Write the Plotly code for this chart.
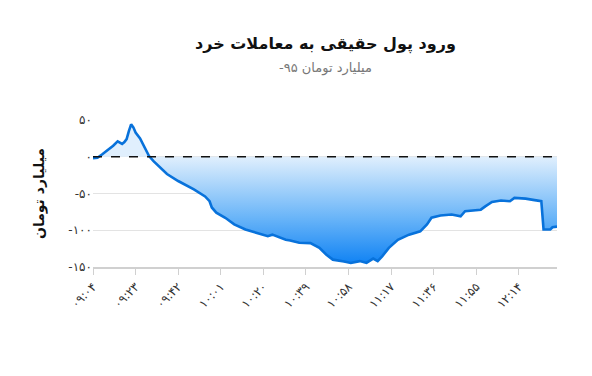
import plotly.graph_objects as go

# ---- data ----
times = ["09:04", "09:06", "09:08", "09:11", "09:13", "09:15", "09:16", "09:17", "09:18", "09:19",
         "09:20", "09:21", "09:22", "09:23", "09:25", "09:27", "09:29", "09:31", "09:34", "09:37",
         "09:42", "09:45", "09:49", "09:54", "09:56", "09:57", "09:59", "10:03", "10:07", "10:12",
         "10:15", "10:18", "10:22", "10:24", "10:27", "10:30", "10:32", "10:36", "10:41", "10:45",
         "10:48", "10:51", "10:56", "10:59", "11:03", "11:06", "11:09", "11:11", "11:13", "11:16",
         "11:20", "11:25", "11:30", "11:33", "11:35", "11:39", "11:44", "11:48", "11:50", "11:54",
         "11:57", "11:59", "12:02", "12:06", "12:10", "12:12", "12:17", "12:21", "12:24", "12:25",
         "12:28", "12:29", "12:31"]
values = [-2, -1.5, 3, 9.5, 15, 21, 19, 17.5, 20, 24,
          35, 44, 40, 33, 25, 14, 1, -6, -14.5, -23.5,
          -33, -38, -44.5, -54, -60.5, -69, -76, -83, -92, -99,
          -102, -105, -108, -106, -110, -113, -114, -117, -117.5, -124,
          -133, -140, -142.5, -144.5, -142, -144.5, -138.5, -142, -135.5, -124,
          -113, -106, -101.5, -92, -83, -80, -78.5, -81, -74, -73,
          -72, -67.5, -61.5, -59.5, -60.5, -56, -57, -59, -60.5, -99,
          -99, -96, -95]
tick_times = ["09:04", "09:23", "09:42", "10:01", "10:20", "10:39", "10:58",
              "11:17", "11:36", "11:55", "12:14"]
y_ticks = [50, 0, -50, -100, -150]

title_text = "ورود پول حقیقی به معاملات خرد"
subtitle_text = "میلیارد تومان ۹۵-"
y_title = "میلیارد تومان"

FA = str.maketrans("0123456789", "۰۱۲۳۴۵۶۷۸۹")
RLM = "\u200f"


def to_min(t):
    h, m = t.split(":")
    return int(h) * 60 + int(m) - (9 * 60 + 4)


x = [to_min(t) for t in times]
tickvals_x = [to_min(t) for t in tick_times]
ticktext_x = [t.translate(FA) for t in tick_times]
ticktext_y = [str(v).translate(FA) for v in y_ticks]

fig = go.Figure()
fig.add_trace(go.Scatter(
    x=x, y=values, mode="lines",
    line=dict(color="#0872db", width=2.6),
    fill="tozeroy",
    fillgradient=dict(type="vertical", start=-150, stop=0,
                      colorscale=[[0, "#0a7ff3"], [0.45, "#6ab5f8"], [1, "#e0effd"]]),
    hoverinfo="skip", showlegend=False,
))

fig.add_shape(type="line", xref="x", yref="y", x0=0, x1=207, y0=0, y1=0,
              line=dict(color="#111111", width=1.4, dash="dash"))

fig.update_layout(
    width=592, height=376,
    margin=dict(l=93, r=35, t=120, b=109),
    paper_bgcolor="white", plot_bgcolor="white",
    font=dict(family="DejaVu Sans, sans-serif", color="#555555"),
    annotations=[
        dict(text="<b>" + title_text + "</b>", xref="paper", yref="paper",
             x=0.5, y=1, yshift=76, xanchor="center", yanchor="middle", showarrow=False,
             font=dict(size=16, color="#111111")),
        dict(text=subtitle_text + RLM, xref="paper", yref="paper",
             x=0.5, y=1, yshift=52, xanchor="center", yanchor="middle", showarrow=False,
             font=dict(size=13, color="#777777")),
    ],
    xaxis=dict(range=[0, 207], tickmode="array", tickvals=tickvals_x, ticktext=ticktext_x,
               tickangle=-45, showgrid=False, showline=True, linecolor="#d0d0d0", linewidth=2,
               ticks="outside", ticklen=6, tickcolor="#d0d0d0", tickfont=dict(size=12, color="#333333"),
               zeroline=False),
    yaxis=dict(range=[-150, 50], tickmode="array", tickvals=y_ticks, ticktext=ticktext_y,
               showgrid=True, gridcolor="#e3e3e3", gridwidth=1, zeroline=False,
               tickfont=dict(size=12, color="#333333"),
               title=dict(text="<b>" + y_title + "</b>", font=dict(size=14, color="#111111"), standoff=20)),
)

fig.write_html("out.html")
